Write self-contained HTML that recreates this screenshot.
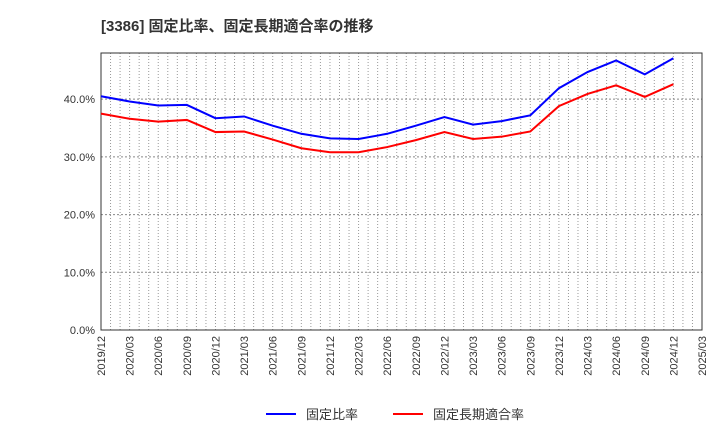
<!DOCTYPE html>
<html><head><meta charset="utf-8"><style>
body{margin:0;background:#fff;font-family:"Liberation Sans","Noto Sans CJK JP",sans-serif;}
</style></head><body>
<svg id="c" width="720" height="440" xmlns="http://www.w3.org/2000/svg">
<text x="101" y="31" font-size="15" font-weight="bold" fill="#333" font-family="Liberation Sans,Noto Sans CJK JP,sans-serif">[3386]  固定比率、固定長期適合率の推移</text>
</svg>
<script>
const categories=["2019/12","2020/03","2020/06","2020/09","2020/12","2021/03","2021/06","2021/09","2021/12","2022/03","2022/06","2022/09","2022/12","2023/03","2023/06","2023/09","2023/12","2024/03","2024/06","2024/09","2024/12","2025/03"];
const fixedRatio=[40.5,39.6,38.9,39.0,36.7,37.0,35.4,34.0,33.2,33.1,34.0,35.4,36.9,35.6,36.2,37.2,41.9,44.7,46.7,44.3,47.1];
const fixedLongTermRatio=[37.5,36.6,36.1,36.4,34.3,34.4,33.0,31.5,30.8,30.8,31.7,32.9,34.3,33.1,33.5,34.4,38.8,40.9,42.4,40.4,42.6];
const yTicks=[0,10,20,30,40];
const yTickLabels=["0.0%","10.0%","20.0%","30.0%","40.0%"];
const NS="http://www.w3.org/2000/svg";
const svg=document.getElementById('c');
const L=101,R=702,T=53,B=330,yMax=48;
const xs=i=>L+(R-L)*i/(categories.length-1);
const ys=v=>B-(B-T)*v/yMax;
function mk(tag,attrs){const e=document.createElementNS(NS,tag);for(const k in attrs)e.setAttribute(k,attrs[k]);svg.appendChild(e);return e;}
// monthly vertical grid
for(let m=1;m<(categories.length-1)*3;m++){
 const x=L+(R-L)*m/((categories.length-1)*3);
 const g=mk('line',{x1:x,x2:x,y1:T,y2:B,stroke:'#999','stroke-width':1,'stroke-dasharray':'1,2'});
 
 
}
yTicks.forEach((v,i)=>{
 const y=ys(v);
 if(v>0){const g=mk('line',{x1:L,x2:R,y1:y,y2:y,stroke:'#888','stroke-width':1,'stroke-dasharray':'2,2'});
 
 }
 const t=mk('text',{x:L-6,y:y+4,'text-anchor':'end','font-size':11,fill:'#333'});
 t.textContent=yTickLabels[i];
 
 
});
const fr=mk('rect',{x:L,y:T,width:R-L,height:B-T,fill:'none',stroke:'#333','stroke-width':1});


categories.forEach((c,i)=>{
 const x=xs(i);
 const t=mk('text',{transform:`translate(${x+4},${B+6}) rotate(-90)`,'text-anchor':'end','font-size':11,fill:'#333'});
 t.textContent=c;
 
 
});
function series(arr,color,name){
 const p=mk('polyline',{points:arr.map((v,i)=>xs(i)+','+ys(v)).join(' '),fill:'none',stroke:color,'stroke-width':2});
 
 
}
series(fixedRatio,'#0000ff','fixed-ratio-line');
series(fixedLongTermRatio,'#ff0000','fixed-long-term-ratio-line');
// legend
[[266,'#0000ff','固定比率','legend-fixed-ratio'],[393,'#ff0000','固定長期適合率','legend-fixed-long-term-ratio']].forEach(([x,c,l,n])=>{
 const g=mk('line',{x1:x,x2:x+30,y1:414,y2:414,stroke:c,'stroke-width':2});
 
 
 const t=mk('text',{x:x+40,y:419,'font-size':13,fill:'#333'});
 t.textContent=l;
 
 
});
</script>
</body></html>
